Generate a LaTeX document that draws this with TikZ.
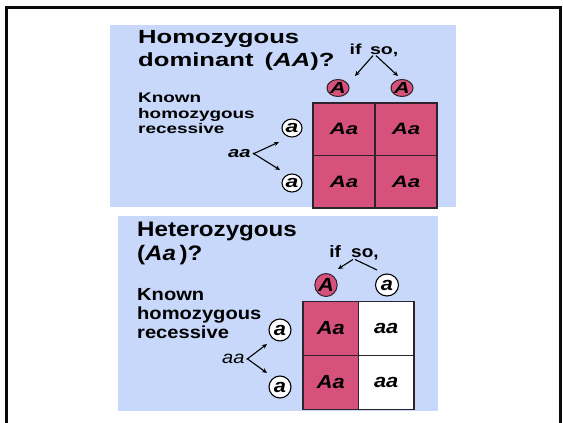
\documentclass[tikz,border=0pt]{standalone}
\usepackage{fontspec}
\setmainfont{Liberation Sans}
\newfontfamily\topf[FakeStretch=1.35]{Liberation Sans}
\newfontfamily\botf[FakeStretch=1.15]{Liberation Sans}
\usetikzlibrary{arrows.meta,shapes.geometric}
\definecolor{panelc}{RGB}{200,216,250}
\definecolor{pinkc}{RGB}{214,82,124}
\definecolor{gridc}{RGB}{45,35,45}
\definecolor{framec}{RGB}{10,10,10}
\tikzset{
  frameline/.style={line width=3pt,draw=framec},
  txt/.style={inner sep=0pt,anchor=base west,text=black},
  tcell/.style={draw=gridc,line width=1.3pt,minimum width=62pt,minimum height=52.5pt,inner sep=0pt,
    font=\topf\bfseries\itshape\fontsize{16.5}{18}\selectfont},
  bcell/.style={draw=gridc,line width=1.3pt,minimum width=55.5pt,minimum height=54pt,inner sep=0pt,
    font=\botf\bfseries\itshape\fontsize{19}{20}\selectfont},
  pinkdot/.style={ellipse,draw=gridc,line width=1pt,fill=pinkc,inner sep=0pt},
  whitedot/.style={ellipse,draw=black,line width=1.1pt,fill=white,inner sep=0pt},
  arr/.style={line width=1.1pt,-{Stealth[length=5pt,width=4.5pt]}},
  plain/.style={line width=1.1pt},
}
\begin{document}
\begin{tikzpicture}[x=1pt,y=-1pt]
\useasboundingbox (0,0) rectangle (563,423);
\fill[white] (0,0) rectangle (563,423);
% outer frame
\coordinate (fbl) at (6.5,423);
\coordinate (ftl) at (6.5,7);
\coordinate (ftr) at (560,7);
\coordinate (fbr) at (560,423);
\draw[frameline] (fbl) -- (ftl) -- (ftr) -- (fbr);

% ===== top panel =====
\fill[panelc] (110,25) rectangle (456,207);
\node[txt,font=\topf\bfseries\fontsize{19}{22}\selectfont] (t1) at (138,43) {Homozygous};
\node[txt,font=\topf\bfseries\fontsize{19}{22}\selectfont] (t2) at (138,66) {dominant\hspace{4pt} (\textit{AA})?};
\node[txt,font=\topf\bfseries\fontsize{14}{15}\selectfont] (k1) at (138,102) {Known};
\node[txt,font=\topf\bfseries\fontsize{14}{15}\selectfont] (k2) at (138,118) {homozygous};
\node[txt,font=\topf\bfseries\fontsize{14}{15}\selectfont] (k3) at (138,133) {recessive};
\node[inner sep=0pt,font=\topf\bfseries\fontsize{14.5}{15}\selectfont] (ifso) at (374,50) {if\hspace{3pt} so,};

\node[tcell,fill=pinkc] (c11) at (344,129.25) {Aa};
\node[tcell,fill=pinkc] (c12) at (406,129.25) {Aa};
\node[tcell,fill=pinkc] (c21) at (344,181.75) {Aa};
\node[tcell,fill=pinkc] (c22) at (406,181.75) {Aa};

\node[pinkdot,minimum width=22pt,minimum height=17pt,font=\topf\bfseries\itshape\fontsize{16}{16}\selectfont] (gA1) at (338,88) {A};
\node[pinkdot,minimum width=22pt,minimum height=17pt,font=\topf\bfseries\itshape\fontsize{16}{16}\selectfont] (gA2) at (402,88) {A};
\node[whitedot,minimum width=20pt,minimum height=18pt,font=\topf\bfseries\itshape\fontsize{17}{16}\selectfont] (ga1) at (292,128) {a};
\node[whitedot,minimum width=20pt,minimum height=18pt,font=\topf\bfseries\itshape\fontsize{17}{16}\selectfont] (ga2) at (292,183) {a};

\node[txt,font=\topf\bfseries\itshape\fontsize{15}{15}\selectfont] (aa1) at (228,157) {aa};

\coordinate (ifL) at (355,76);
\coordinate (ifR) at (398,76);
\draw[arr] ([xshift=-1pt,yshift=1pt]ifso.south) -- (ifL);
\draw[arr] ([xshift=2pt,yshift=1pt]ifso.south) -- (ifR);
\coordinate (aaU) at (279,142);
\coordinate (aaD) at (280,170);
\draw[arr] ([xshift=2pt,yshift=-1pt]aa1.east) -- (aaU);
\draw[arr] ([xshift=2pt,yshift=0pt]aa1.east) -- (aaD);

% ===== bottom panel =====
\fill[panelc] (118,216) rectangle (438,411);
\node[txt,font=\botf\bfseries\fontsize{21}{22}\selectfont] (h1) at (137,236) {Heterozygous};
\node[txt,font=\botf\bfseries\fontsize{21}{22}\selectfont] (h2) at (137,260) {(\textit{Aa\,})?};
\node[txt,font=\botf\bfseries\fontsize{17.5}{18}\selectfont] (m1) at (137,300) {Known};
\node[txt,font=\botf\bfseries\fontsize{17.5}{18}\selectfont] (m2) at (137,319) {homozygous};
\node[txt,font=\botf\bfseries\fontsize{17.5}{18}\selectfont] (m3) at (137,338) {recessive};
\node[inner sep=0pt,font=\botf\bfseries\fontsize{16.5}{17}\selectfont] (ifso2) at (354,253) {if\hspace{5pt} so,};

\node[bcell,fill=pinkc] (d11) at (330.75,328.5) {Aa};
\node[bcell,fill=white] (d12) at (386.25,328.5) {aa};
\node[bcell,fill=pinkc] (d21) at (330.75,382.5) {Aa};
\node[bcell,fill=white] (d22) at (386.25,382.5) {aa};

\node[pinkdot,minimum width=21pt,minimum height=23pt,font=\botf\bfseries\itshape\fontsize{19}{19}\selectfont] (hA) at (326,285) {A};
\node[whitedot,minimum width=23pt,minimum height=22pt,font=\botf\bfseries\itshape\fontsize{19}{19}\selectfont] (ha) at (387,285) {a};
\node[whitedot,minimum width=22pt,minimum height=22pt,font=\botf\bfseries\itshape\fontsize{19}{19}\selectfont] (hb1) at (280,330) {a};
\node[whitedot,minimum width=22pt,minimum height=22pt,font=\botf\bfseries\itshape\fontsize{19}{19}\selectfont] (hb2) at (280,387) {a};

\node[txt,font=\botf\itshape\fontsize{17.5}{17}\selectfont] (aa2) at (222,363) {aa};

\coordinate (if2L) at (338,269);
\coordinate (if2R) at (377,270);
\draw[arr] ([xshift=-1pt,yshift=1pt]ifso2.south) -- (if2L);
\draw[plain] ([xshift=1pt,yshift=1pt]ifso2.south) -- (if2R);
\coordinate (aa2U) at (267,344);
\coordinate (aa2D) at (267,373);
\draw[arr] ([xshift=2pt,yshift=-1pt]aa2.east) -- (aa2U);
\draw[arr] ([xshift=2pt,yshift=0pt]aa2.east) -- (aa2D);
\end{tikzpicture}
\end{document}
